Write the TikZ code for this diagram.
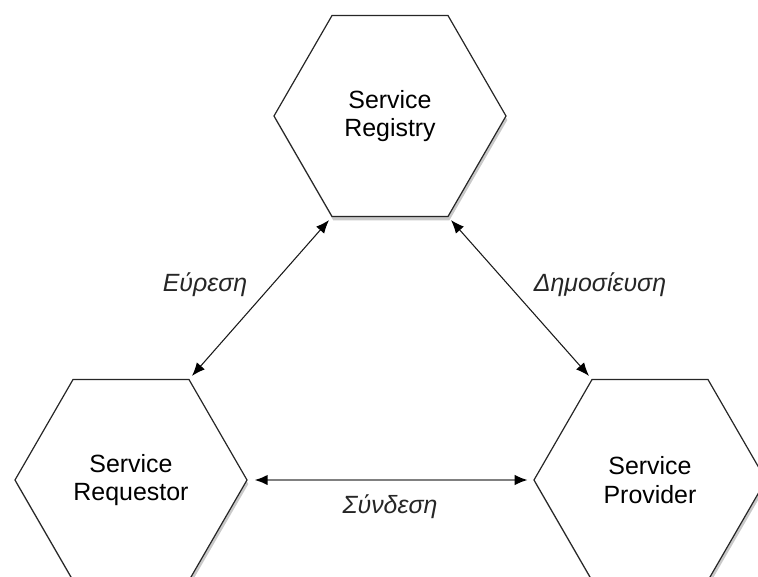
\documentclass[tikz,border=0pt]{standalone}
\usepackage{fontspec}
\setmainfont{Liberation Sans}
\usetikzlibrary{shapes.geometric,arrows.meta,shadows}

\begin{document}
\begin{tikzpicture}[x=0.75pt,y=0.75pt,yscale=-1,xscale=1,
  hexa/.style={regular polygon, regular polygon sides=6,
    minimum size=174pt, inner sep=0pt, draw=black!85, line width=0.9pt, fill=white,
    drop shadow={shadow xshift=1pt, shadow yshift=-3pt, opacity=0.3, fill=black!70},
    align=center, font=\fontsize{18.7}{21.5}\selectfont},
  link/.style={{Latex[length=10pt,width=8pt,color=black]}-{Latex[length=10pt,width=8pt,color=black]}, line width=0.8pt, draw=black!90},
  lbl/.style={font=\fontsize{18.7}{21.5}\selectfont\itshape, text=black!85}]
                    \useasboundingbox (0,0) rectangle (758,576);
                    \clip (0,0) rectangle (758,576);

                    %Hexagons
                    \node[hexa] (registry) at (390,116) {Service\\Registry};
                    \node[hexa] (requestor) at (131,480) {Service\\Requestor};
                    \node[hexa] (provider) at (650,480) {Service\\Provider};

                    %Straight Lines
                    \draw[link, shorten <=3pt, shorten >=3pt] (registry.corner 4) -- (requestor.corner 1);
                    \draw[link, shorten <=3pt, shorten >=3pt] (registry.corner 5) -- (provider.corner 2);
                    \draw[link, draw=black!50, line width=1.8pt, shorten <=5pt, shorten >=4pt] (requestor.corner 6) -- (provider.corner 3);

                    % Text Node
                    \node[lbl] (find) at (205,285) {Εύρεση};
                    \node[lbl] (publish) at (600,285) {Δημοσίευση};
                    \node[lbl] (bind) at (390,507) {Σύνδεση};

\end{tikzpicture}
\end{document}
